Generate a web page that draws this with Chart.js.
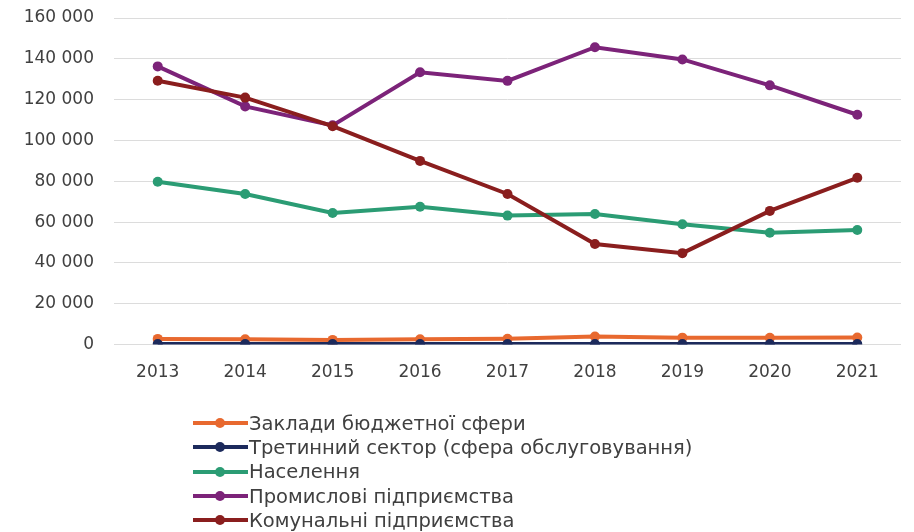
<!DOCTYPE html>
<html lang="uk">
<head>
<meta charset="utf-8">
<script src="https://cdn.jsdelivr.net/npm/chart.js@4/dist/chart.umd.min.js"></script>
<style>
  html, body { margin: 0; padding: 0; background: #ffffff; }
  #wrap { position: relative; width: 914px; height: 532px; }
  #chart { position: absolute; left: 0; top: 0; }
  #legend {
    position: absolute; left: 193px; top: 411px;
    font-family: "DejaVu Sans", sans-serif; font-size: 19.5px; color: #404040;
  }
  .row { display: flex; align-items: center; height: 24.3px; white-space: nowrap; }
  .mark { position: relative; width: 55px; height: 12px; margin-right: 1px; }
  .mark .ln { position: absolute; left: 0; right: 0; top: 4px; height: 4px; }
  .mark .dot { position: absolute; left: 22px; top: 1px; width: 10px; height: 10px; border-radius: 50%; }
</style>
</head>
<body>
<div id="wrap">
  <canvas id="chart" width="914" height="532"></canvas>
  <div id="legend"></div>
</div>
<script>
// Роки
const years = ['2013', '2014', '2015', '2016', '2017', '2018', '2019', '2020', '2021'];

// Назви груп споживачів
const seriesNames = [
  'Заклади бюджетної сфери',
  'Третинний сектор (сфера обслуговування)',
  'Населення',
  'Промислові підприємства',
  'Комунальні підприємства'
];

// Обсяги споживання за групами
const budgetSphere = [2800, 2600, 2300, 2600, 2900, 4000, 3400, 3300, 3500];
const tertiarySector = [300, 300, 300, 300, 300, 300, 300, 300, 300];
const population = [79800, 73800, 64500, 67500, 63200, 64000, 59000, 54800, 56100];
const industrial = [136300, 116700, 107400, 133400, 129200, 145700, 139700, 127000, 112600];
const communal = [129300, 121000, 107000, 90000, 73800, 49300, 44800, 65500, 81700];

// Шкала осі значень
const yMin = 0;
const yMax = 160000;
const yStep = 20000;

const colors = ['#e8692f', '#1c2a5c', '#2b9c74', '#7c2379', '#8a1e1e'];
const seriesValues = [budgetSphere, tertiarySector, population, industrial, communal];

const fmt = v => String(v).replace(/\B(?=(\d{3})+(?!\d))/g, '\u00a0');

const datasets = seriesNames.map((name, i) => ({
  label: name,
  data: seriesValues[i],
  borderColor: colors[i],
  backgroundColor: colors[i],
  borderWidth: 4,
  pointRadius: 5,
  pointHoverRadius: 5,
  pointBorderWidth: 0,
  tension: 0,
  order: [4, 3, 2, 1, 0][i]
}));

new Chart(document.getElementById('chart'), {
  type: 'line',
  data: { labels: years, datasets },
  options: {
    responsive: false,
    animation: false,
    events: [],
    layout: { padding: { top: 18, right: 13, left: 0, bottom: 131 } },
    plugins: { legend: { display: false }, tooltip: { enabled: false } },
    scales: {
      x: {
        offset: true,
        grid: { display: false, drawTicks: false },
        border: { display: false },
        ticks: {
          padding: 18,
          color: '#404040',
          font: { family: 'DejaVu Sans', size: 17 }
        }
      },
      y: {
        min: yMin,
        max: yMax,
        afterFit: s => { s.width = 114; s.paddingTop = 0; },
        grid: { color: '#dcdcdc', lineWidth: 1, drawTicks: false },
        border: { display: false },
        ticks: {
          stepSize: yStep,
          padding: 20,
          color: '#404040',
          font: { family: 'DejaVu Sans', size: 17 },
          callback: v => fmt(v)
        }
      }
    }
  }
});

// Легенда під графіком
const legend = document.getElementById('legend');
seriesNames.forEach((name, i) => {
  const row = document.createElement('div');
  row.className = 'row';
  const mark = document.createElement('span');
  mark.className = 'mark';
  mark.innerHTML = '<span class="ln" style="background:' + colors[i] + '"></span>' +
                   '<span class="dot" style="background:' + colors[i] + '"></span>';
  const txt = document.createElement('span');
  txt.textContent = name;
  row.appendChild(mark);
  row.appendChild(txt);
  legend.appendChild(row);
});
</script>
</body>
</html>
